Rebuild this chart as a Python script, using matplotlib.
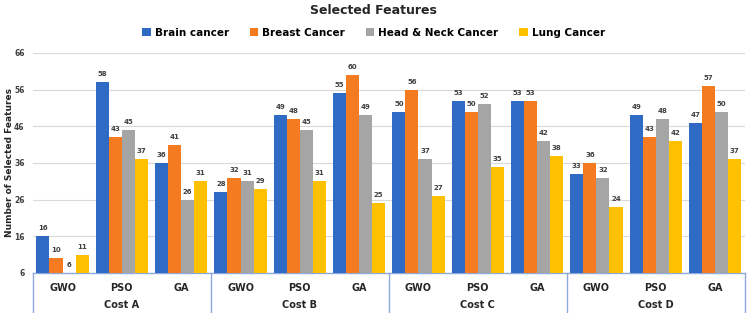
import matplotlib.pyplot as plt
import numpy as np

costs = ['Cost A', 'Cost B', 'Cost C', 'Cost D']
algos = ['GWO', 'PSO', 'GA']
series = ['Brain cancer', 'Breast Cancer', 'Head & Neck Cancer', 'Lung Cancer']
colors = ['#2F6BC4', '#F47B20', '#A5A5A5', '#FFC000']

brain = [16, 58, 36, 28, 49, 55, 50, 53, 53, 33, 49, 47]
breast = [10, 43, 41, 32, 48, 60, 56, 50, 53, 36, 43, 57]
headneck = [6, 45, 26, 31, 45, 49, 37, 52, 42, 32, 48, 50]
lung = [11, 37, 31, 29, 31, 25, 27, 35, 38, 24, 42, 37]
values = [brain, breast, headneck, lung]

base = 6
yticks = [6, 16, 26, 36, 46, 56, 66]

fig = plt.figure(figsize=(7.47, 3.13), dpi=100)
ax = fig.add_axes([0.044, 0.128, 0.953, 0.703])

x = np.arange(len(brain))
w = 0.22
for i, (name, vals) in enumerate(zip(series, values)):
    pos = x + (i - 1.5) * w
    h = np.array(vals) - base
    ax.bar(pos, h, w, bottom=base, color=colors[i], label=name, zorder=3)
    for p, v in zip(pos, vals):
        ax.text(p, v + 1.3, str(v), ha='center', va='bottom', fontsize=5,
                fontweight='bold', color='#404040', zorder=4)

ax.set_xlim(-0.5, len(brain) - 0.5)
ax.set_ylim(6, 66)
ax.set_yticks(yticks)
ax.set_yticklabels([str(t) for t in yticks], fontsize=5.5, fontweight='bold', color='#404040')
ax.yaxis.grid(True, color='#D9D9D9', linewidth=0.8, zorder=0)
ax.tick_params(axis='y', length=0, pad=6)
ax.tick_params(axis='x', length=0, pad=7)
ax.set_xticks(x)
ax.set_xticklabels(algos * len(costs), fontsize=7, fontweight='bold', color='#262626')
for s in ['top', 'right', 'left']:
    ax.spines[s].set_visible(False)
ax.spines['bottom'].set_color('#8EA9DB')
ax.spines['bottom'].set_linewidth(1.0)

ax.set_ylabel('Number of Selected Features', fontsize=6.5, fontweight='bold', color='#262626')
ax.yaxis.set_label_coords(-0.026, 0.5)

# group separators and cost labels
trans = ax.get_xaxis_transform()
for g in range(len(costs) + 1):
    xs = g * 3 - 0.5
    ax.plot([xs, xs], [0, -0.182], transform=trans, color='#8EA9DB', linewidth=1.0, clip_on=False)
for g, c in enumerate(costs):
    ax.text(g * 3 + 1, -0.145, c, transform=trans, ha='center', va='center',
            fontsize=7, fontweight='bold', color='#262626')

fig.text(0.5, 0.968, 'Selected Features', ha='center', va='center', fontsize=9, fontweight='bold', color='#262626')
fig.legend(loc='center', bbox_to_anchor=(0.5, 0.895), ncol=4, frameon=False,
           prop={'weight': 'bold', 'size': 7.5}, handlelength=0.8, handleheight=0.8,
           columnspacing=2.0, handletextpad=0.4)

fig.savefig('out.png', dpi=100)
